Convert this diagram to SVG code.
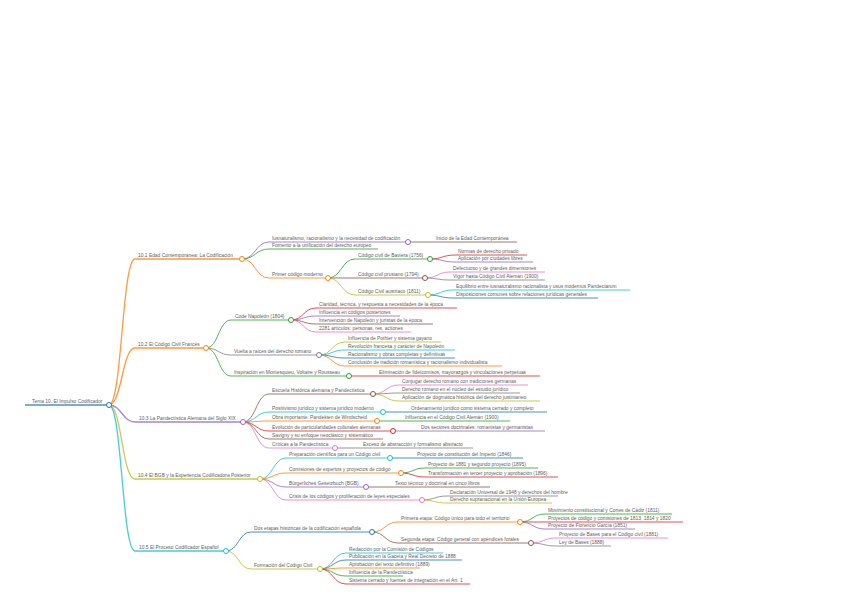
<svg xmlns="http://www.w3.org/2000/svg" width="848" height="599" viewBox="0 0 848 599">
<style>
text{font-family:"Liberation Sans",Arial,sans-serif;font-size:4.9px;fill:#606060}
path{fill:none;stroke-width:1;stroke-opacity:.8}
.l1{stroke-width:1.3}
circle{fill:#fff;stroke-width:1}
.blue{stroke:#1f77b4}.orange{stroke:#ff7f0e}.green{stroke:#2ca02c}.red{stroke:#d62728}.purple{stroke:#9467bd}.brown{stroke:#8c564b}.pink{stroke:#e377c2}.gray{stroke:#7f7f7f}.yellow{stroke:#bcbd22}.cyan{stroke:#17becf}
</style>
<rect width="848" height="599" fill="#fff"/>
<g id="connectors">
<path class="l1 orange" d="M109 405C122 405 122 259 135 259"/>
<path class="l1 orange" d="M109 405C122 405 122 348 135 348"/>
<path class="l1 purple" d="M109 405C122 405 122 422 135 422"/>
<path class="l1 yellow" d="M109 405C122 405 122 479 135 479"/>
<path class="l1 cyan" d="M109 405C122 405 122 551 135 551"/>
<path class="purple" d="M242 259C255.5 259 255.5 242 269 242"/>
<path class="green" d="M242 259C255.5 259 255.5 249 269 249"/>
<path class="orange" d="M242 259C255.5 259 255.5 278 269 278"/>
<path class="brown" d="M408 242H433"/>
<path class="green" d="M328 278C341.5 278 341.5 259 355 259"/>
<path class="brown" d="M328 278H355"/>
<path class="yellow" d="M328 278C341.5 278 341.5 295 355 295"/>
<path class="red" d="M430 259C442.5 259 442.5 255 455 255"/>
<path class="purple" d="M430 259C442.5 259 442.5 262 455 262"/>
<path class="pink" d="M425 278C437.5 278 437.5 272 450 272"/>
<path class="gray" d="M425 278C437.5 278 437.5 280 450 280"/>
<path class="cyan" d="M428 295C440.5 295 440.5 290 453 290"/>
<path class="blue" d="M428 295C440.5 295 440.5 298 453 298"/>
<path class="green" d="M206 348C218.5 348 218.5 320 231 320"/>
<path class="gray" d="M206 348C218.5 348 218.5 355 231 355"/>
<path class="green" d="M206 348C218.5 348 218.5 376 231 376"/>
<path class="red" d="M291 320C303.5 320 303.5 308 316 308"/>
<path class="purple" d="M291 320C303.5 320 303.5 316 316 316"/>
<path class="brown" d="M291 320C303.5 320 303.5 324 316 324"/>
<path class="pink" d="M291 320C303.5 320 303.5 332 316 332"/>
<path class="yellow" d="M319 355C332 355 332 342 345 342"/>
<path class="cyan" d="M319 355C332 355 332 350 345 350"/>
<path class="blue" d="M319 355C332 355 332 358 345 358"/>
<path class="orange" d="M319 355C332 355 332 366 345 366"/>
<path class="red" d="M349 376H376"/>
<path class="brown" d="M243 422C256 422 256 394 269 394"/>
<path class="cyan" d="M243 422C256 422 256 412 269 412"/>
<path class="orange" d="M243 422C256 422 256 421 269 421"/>
<path class="red" d="M243 422C256 422 256 431 269 431"/>
<path class="brown" d="M243 422C256 422 256 439 269 439"/>
<path class="pink" d="M243 422C256 422 256 448 269 448"/>
<path class="pink" d="M373 394C386 394 386 385 399 385"/>
<path class="gray" d="M373 394C386 394 386 393 399 393"/>
<path class="yellow" d="M373 394C386 394 386 401 399 401"/>
<path class="blue" d="M383 412H408"/>
<path class="green" d="M377 421H402"/>
<path class="purple" d="M393 431H418"/>
<path class="gray" d="M335 448H360"/>
<path class="cyan" d="M260 479C273 479 273 458 286 458"/>
<path class="orange" d="M260 479C273 479 273 473 286 473"/>
<path class="purple" d="M260 479C273 479 273 487 286 487"/>
<path class="pink" d="M260 479C273 479 273 500 286 500"/>
<path class="blue" d="M390 458H414"/>
<path class="green" d="M401 473C413 473 413 468 425 468"/>
<path class="red" d="M401 473C413 473 413 477 425 477"/>
<path class="brown" d="M366 487H392"/>
<path class="gray" d="M422 500C434.5 500 434.5 496 447 496"/>
<path class="yellow" d="M422 500C434.5 500 434.5 503 447 503"/>
<path class="blue" d="M226 551C238.5 551 238.5 532 251 532"/>
<path class="yellow" d="M226 551C238.5 551 238.5 569 251 569"/>
<path class="orange" d="M372 532C385 532 385 522 398 522"/>
<path class="brown" d="M372 532C385 532 385 543 398 543"/>
<path class="green" d="M520 522C532.5 522 532.5 514 545 514"/>
<path class="red" d="M520 522H545"/>
<path class="purple" d="M520 522C532.5 522 532.5 529 545 529"/>
<path class="pink" d="M531 543C543.5 543 543.5 538 556 538"/>
<path class="gray" d="M531 543C543.5 543 543.5 546 556 546"/>
<path class="cyan" d="M320 569C333 569 333 553 346 553"/>
<path class="blue" d="M320 569C333 569 333 560 346 560"/>
<path class="orange" d="M320 569C333 569 333 568 346 568"/>
<path class="green" d="M320 569C333 569 333 576 346 576"/>
<path class="red" d="M320 569C333 569 333 584 346 584"/>
</g>
<g id="nodes">
<g id="root"><path class="l1 blue" d="M25 405H109"/><text x="32" y="403.4">Tema 10. El Impulso Codificador</text><circle class="blue" cx="109" cy="405" r="2.5"/></g>

<g id="n10-1"><path class="l1 orange" d="M135 259H242"/><text x="138" y="257.4">10.1 Edad Contemporánea: La Codificación</text><circle class="orange" cx="242" cy="259" r="2.5"/></g>
<g id="n-ius"><path class="purple" d="M269 242H408"/><text x="272" y="240.4">Iusnaturalismo, racionalismo y la necesidad de codificación</text><circle class="purple" cx="408" cy="242" r="2.5"/></g>
<g id="n-inicio"><path class="brown" d="M433 242H517"/><text x="436" y="240.4">Inicio de la Edad Contemporánea</text></g>
<g id="n-fomento"><path class="green" d="M269 249H378"/><text x="272" y="247.4">Fomento a la unificación del derecho europeo</text></g>
<g id="n-primer"><path class="orange" d="M269 278H328"/><text x="272" y="276.4">Primer código moderno</text><circle class="orange" cx="328" cy="278" r="2.5"/></g>
<g id="n-baviera"><path class="green" d="M355 259H430"/><text x="358" y="257.4">Código civil de Baviera (1756)</text><circle class="green" cx="430" cy="259" r="2.5"/></g>
<g id="n-normas"><path class="red" d="M455 255H527"/><text x="458" y="253.4">Normas de derecho privado</text></g>
<g id="n-aplic"><path class="purple" d="M455 262H533"/><text x="458" y="260.4">Aplicación por ciudades libres</text></g>
<g id="n-prusiano"><path class="brown" d="M355 278H425"/><text x="358" y="276.4">Código civil prusiano (1794)</text><circle class="brown" cx="425" cy="278" r="2.5"/></g>
<g id="n-defect"><path class="pink" d="M450 272H545"/><text x="453" y="270.4">Defectuoso y de grandes dimensiones</text></g>
<g id="n-vigor"><path class="gray" d="M450 280H545"/><text x="453" y="278.4">Vigor hasta Código Civil Alemán (1900)</text></g>
<g id="n-austriaco"><path class="yellow" d="M355 295H428"/><text x="358" y="293.4">Código Civil austriaco (1811)</text><circle class="yellow" cx="428" cy="295" r="2.5"/></g>
<g id="n-equil"><path class="cyan" d="M453 290H630"/><text x="456" y="288.4">Equilibrio entre iusnaturalismo racionalista y usus modernus Pandectarum</text></g>
<g id="n-dispos"><path class="blue" d="M453 298H598"/><text x="456" y="296.4">Disposiciones comunes sobre relaciones jurídicas generales</text></g>

<g id="n10-2"><path class="l1 orange" d="M135 348H206"/><text x="138" y="346.4">10.2 El Código Civil Francés</text><circle class="orange" cx="206" cy="348" r="2.5"/></g>
<g id="n-code"><path class="green" d="M231 320H291"/><text x="235" y="318.4">Code Napoleón (1804)</text><circle class="green" cx="291" cy="320" r="2.5"/></g>
<g id="n-claridad"><path class="red" d="M316 308H457"/><text x="319" y="306.4">Claridad, técnica, y respuesta a necesidades de la época</text></g>
<g id="n-influ"><path class="purple" d="M316 316H400"/><text x="319" y="314.4">Influencia en códigos posteriores</text></g>
<g id="n-interv"><path class="brown" d="M316 324H433"/><text x="319" y="322.4">Intervención de Napoleón y juristas de la época</text></g>
<g id="n-2281"><path class="pink" d="M316 332H411"/><text x="319" y="330.4">2281 artículos: personas, res, actiones</text></g>
<g id="n-vuelta"><path class="gray" d="M231 355H319"/><text x="234" y="353.4">Vuelta a raíces del derecho romano</text><circle class="gray" cx="319" cy="355" r="2.5"/></g>
<g id="n-pothier"><path class="yellow" d="M345 342H441"/><text x="348" y="340.4">Influencia de Pothier y sistema gayano</text></g>
<g id="n-revol"><path class="cyan" d="M345 350H455"/><text x="348" y="348.4">Revolución francesa y carácter de Napoleón</text></g>
<g id="n-racion"><path class="blue" d="M345 358H455"/><text x="348" y="356.4">Racionalismo y obras completas y definitivas</text></g>
<g id="n-conclu"><path class="orange" d="M345 366H502"/><text x="348" y="364.4">Conclusión de tradición romanística y racionalismo individualista</text></g>
<g id="n-inspir"><path class="green" d="M231 376H349"/><text x="234" y="374.4">Inspiración en Montesquieu, Voltaire y Rousseau</text><circle class="green" cx="349" cy="376" r="2.5"/></g>
<g id="n-elim"><path class="red" d="M376 376H540"/><text x="379" y="374.4">Eliminación de fideicomisos, mayorazgos y vinculaciones perpetuas</text></g>

<g id="n10-3"><path class="l1 purple" d="M135 422H243"/><text x="139" y="420.4">10.3 La Pandectística Alemana del Siglo XIX</text><circle class="purple" cx="243" cy="422" r="2.5"/></g>
<g id="n-escuela"><path class="brown" d="M269 394H373"/><text x="272" y="392.4">Escuela Histórica alemana y Pandectística</text><circle class="brown" cx="373" cy="394" r="2.5"/></g>
<g id="n-conjugar"><path class="pink" d="M399 385H528"/><text x="402" y="383.4">Conjugar derecho romano con tradiciones germanas</text></g>
<g id="n-derrom"><path class="gray" d="M399 393H520"/><text x="402" y="391.4">Derecho romano en el núcleo del estudio jurídico</text></g>
<g id="n-aplicdog"><path class="yellow" d="M399 401H540"/><text x="402" y="399.4">Aplicación de dogmática histórica del derecho justinianeo</text></g>
<g id="n-posit"><path class="cyan" d="M269 412H383"/><text x="272" y="410.4">Positivismo jurídico y sistema jurídico moderno</text><circle class="cyan" cx="383" cy="412" r="2.5"/></g>
<g id="n-orden"><path class="blue" d="M408 412H547"/><text x="411" y="410.4">Ordenamiento jurídico como sistema cerrado y completo</text></g>
<g id="n-obra"><path class="orange" d="M269 421H377"/><text x="272" y="419.4">Obra importante: Pandekten de Windscheid</text><circle class="orange" cx="377" cy="421" r="2.5"/></g>
<g id="n-influcc"><path class="green" d="M402 421H510"/><text x="405" y="419.4">Influencia en el Código Civil Alemán (1900)</text></g>
<g id="n-evol"><path class="red" d="M269 431H393"/><text x="272" y="429.4">Evolución de particularidades culturales alemanas</text><circle class="red" cx="393" cy="431" r="2.5"/></g>
<g id="n-dossect"><path class="purple" d="M418 431H545"/><text x="421" y="429.4">Dos sectores doctrinales: romanistas y germanistas</text></g>
<g id="n-savigny"><path class="brown" d="M269 439H383"/><text x="272" y="437.4">Savigny y su enfoque neoclásico y sistemático</text></g>
<g id="n-criticas"><path class="pink" d="M269 448H335"/><text x="272" y="446.4">Críticas a la Pandectística</text><circle class="pink" cx="335" cy="448" r="2.5"/></g>
<g id="n-exceso"><path class="gray" d="M360 448H473"/><text x="363" y="446.4">Exceso de abstracción y formalismo abstracto</text></g>

<g id="n10-4"><path class="l1 yellow" d="M135 479H260"/><text x="138" y="477.4">10.4 El BGB y la Experiencia Codificadora Posterior</text><circle class="yellow" cx="260" cy="479" r="2.5"/></g>
<g id="n-prep"><path class="cyan" d="M286 458H390"/><text x="289" y="456.4">Preparación científica para un Código civil</text><circle class="cyan" cx="390" cy="458" r="2.5"/></g>
<g id="n-proyconst"><path class="blue" d="M414 458H523"/><text x="417" y="456.4">Proyecto de constitución del Imperio (1846)</text></g>
<g id="n-comis"><path class="orange" d="M286 473H401"/><text x="289" y="471.4">Comisiones de expertos y proyectos de código</text><circle class="orange" cx="401" cy="473" r="2.5"/></g>
<g id="n-proy1881"><path class="green" d="M425 468H538"/><text x="428" y="466.4">Proyecto de 1881 y segundo proyecto (1895)</text></g>
<g id="n-transf"><path class="red" d="M425 477H558"/><text x="428" y="475.4">Transformación en tercer proyecto y aprobación (1896)</text></g>
<g id="n-bgb"><path class="purple" d="M286 487H366"/><text x="289" y="485.4">Bürgerliches Gesetzbuch (BGB)</text><circle class="purple" cx="366" cy="487" r="2.5"/></g>
<g id="n-texto"><path class="brown" d="M392 487H490"/><text x="395" y="485.4">Texto técnico y doctrinal en cinco libros</text></g>
<g id="n-crisis"><path class="pink" d="M286 500H422"/><text x="289" y="498.4">Crisis de los códigos y proliferación de leyes especiales</text><circle class="pink" cx="422" cy="500" r="2.5"/></g>
<g id="n-declar"><path class="gray" d="M447 496H558"/><text x="450" y="494.4">Declaración Universal de 1948 y derechos del hombre</text></g>
<g id="n-supra"><path class="yellow" d="M447 503H552"/><text x="450" y="501.4">Derecho supranacional en la Unión Europea</text></g>

<g id="n10-5"><path class="l1 cyan" d="M135 551H226"/><text x="139" y="549.4">10.5 El Proceso Codificador Español</text><circle class="cyan" cx="226" cy="551" r="2.5"/></g>
<g id="n-dosetapas"><path class="blue" d="M251 532H372"/><text x="254" y="530.4">Dos etapas históricas de la codificación española</text><circle class="blue" cx="372" cy="532" r="2.5"/></g>
<g id="n-primera"><path class="orange" d="M398 522H520"/><text x="401" y="520.4">Primera etapa: Código único para todo el territorio</text><circle class="orange" cx="520" cy="522" r="2.5"/></g>
<g id="n-movim"><path class="green" d="M545 514H672"/><text x="548" y="512.4">Movimiento constitucional y Cortes de Cádiz (1811)</text></g>
<g id="n-proycod"><path class="red" d="M545 522H683"/><text x="548" y="520.4">Proyectos de código y comisiones de 1813, 1814 y 1820</text></g>
<g id="n-florencio"><path class="purple" d="M545 529H635"/><text x="548" y="527.4">Proyecto de Florencio García (1851)</text></g>
<g id="n-segunda"><path class="brown" d="M398 543H531"/><text x="401" y="541.4">Segunda etapa: Código general con apéndices forales</text><circle class="brown" cx="531" cy="543" r="2.5"/></g>
<g id="n-proybases"><path class="pink" d="M556 538H668"/><text x="559" y="536.4">Proyecto de Bases para el Código civil (1881)</text></g>
<g id="n-leybases"><path class="gray" d="M556 546H611"/><text x="559" y="544.4">Ley de Bases (1888)</text></g>
<g id="n-formacion"><path class="yellow" d="M251 569H320"/><text x="254" y="567.4">Formación del Código Civil</text><circle class="yellow" cx="320" cy="569" r="2.5"/></g>
<g id="n-redac"><path class="cyan" d="M346 553H443"/><text x="349" y="551.4">Redacción por la Comisión de Códigos</text></g>
<g id="n-public"><path class="blue" d="M346 560H462"/><text x="349" y="558.4">Publicación en la Gaceta y Real Decreto de 1888</text></g>
<g id="n-aprob"><path class="orange" d="M346 568H420"/><text x="349" y="566.4">Aprobación del texto definitivo (1889)</text></g>
<g id="n-influpand"><path class="green" d="M346 576H403"/><text x="349" y="574.4">Influencia de la Pandectística</text></g>
<g id="n-sistema"><path class="red" d="M346 584H470"/><text x="349" y="582.4">Sistema cerrado y fuentes de integración en el Art. 1</text></g>
</g>
</svg>
